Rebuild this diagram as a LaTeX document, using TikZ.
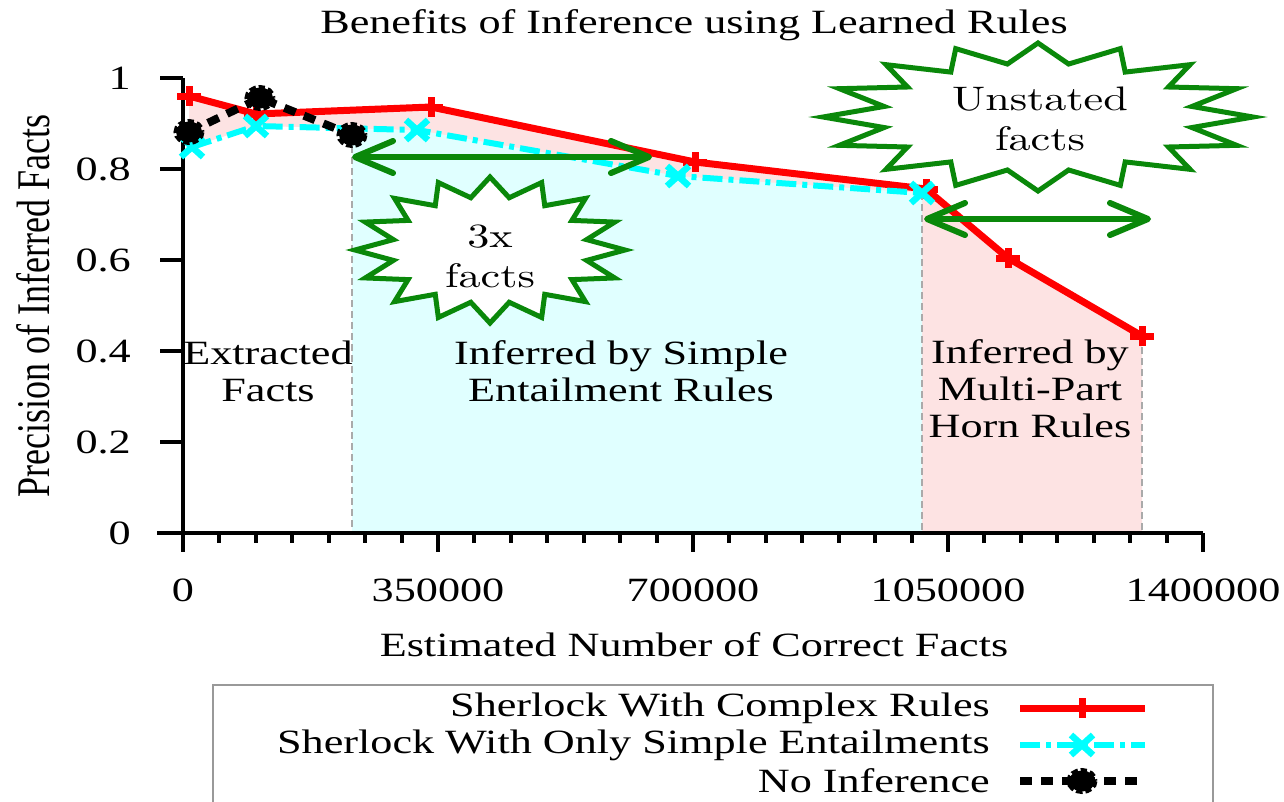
\documentclass[tikz,border=0pt]{standalone}
\usepackage{fontspec}
\newfontfamily\tms{Liberation Serif}[FakeStretch=1.3]
\newfontfamily\tmsplain{Liberation Serif}
\newfontfamily\lmr{lmroman10-regular.otf}[FakeStretch=1.3]
\usetikzlibrary{arrows.meta}
\definecolor{pinkfill}{HTML}{FDE3E3}
\definecolor{cyanfill}{HTML}{E0FFFF}
\definecolor{aqua}{HTML}{00FFFF}
\definecolor{pure red}{HTML}{FF0000}
\definecolor{burst}{HTML}{0A880A}
\definecolor{guide}{HTML}{AAAAAA}
\definecolor{boxgray}{HTML}{999999}

% starburst outline around a centre: #1 centre, #2/#3 outer radii
\newcommand\drawburst[3]{%
  \draw[burstline, shift={(#1)}]
    plot[samples at={0,...,31}, variable=\k]
    ({#2*(1-0.27*mod(\k,2))*cos(90+11.25*\k)},
     {#3*(1-0.27*mod(\k,2))*sin(90+11.25*\k)}) -- cycle;}

\begin{document}
\begin{tikzpicture}[x=1pt, y=-1pt,
  lbl/.style={font=\tms\fontsize{34}{37}\selectfont, inner sep=0pt, align=center},
  cmlbl/.style={font=\lmr\fontsize{34}{40}\selectfont, inner sep=0pt, align=center},
  axisline/.style={line width=4pt, black},
  guideline/.style={guide, line width=1.5pt, dash pattern=on 7pt off 4pt},
  redline/.style={pure red, line width=7pt, line join=round},
  cyanline/.style={aqua, line width=6pt, line join=round, dash pattern=on 20pt off 6pt on 5pt off 6pt},
  blackline/.style={black, line width=8pt, dash pattern=on 12pt off 9pt},
  burstline/.style={burst, line width=5pt, fill=white, line join=miter},
  twoway/.style={burst, line width=6pt, line cap=round,
    {Straight Barb[length=38pt, width=32pt, round]}-{Straight Barb[length=38pt, width=32pt, round]}},
  plusmark/.pic={\draw[pure red, line width=7pt] (-12,0) -- (12,0) (0,-10) -- (0,10);},
  xmark/.pic={\draw[aqua, line width=6.5pt] (-11,-10) -- (11,10) (-11,10) -- (11,-10);},
  dotmark/.pic={\fill[black] (0,0) ellipse [x radius=13, y radius=10.5];
                \draw[black, line width=5pt, dash pattern=on 6pt off 3pt] (0,0) ellipse [x radius=13, y radius=10.5];}
]
\useasboundingbox (0,0) rectangle (1284,801);

% origin of the axes
\coordinate (o) at (183,533);

% Sherlock with complex rules
\coordinate (R1) at (189,96);
\coordinate (R2) at (256,114);
\coordinate (R3) at (431,107);
\coordinate (R4) at (695,162);
\coordinate (R5) at (926,189);
\coordinate (R6) at (1008,258);
\coordinate (R7) at (1142,336);
% Sherlock with only simple entailments
\coordinate (C1) at (192,147);
\coordinate (C2) at (256,126);
\coordinate (C3) at (417,130);
\coordinate (C4) at (678,176);
\coordinate (C5) at (922,193);
\coordinate (Cs) at (352,128.4);
% no inference
\coordinate (B1) at (189,132);
\coordinate (B2) at (260,98);
\coordinate (B3) at (352,135);

% shaded regions
\fill[pinkfill] (R1|-o) -- (R1) -- (R2) -- (R3) -- (R4) -- (R5) -- (R6) -- (R7) -- (R7|-o) -- cycle;
\fill[white] (o) -- (o|-C1) -- (C1) -- (C2) -- (Cs) -- (Cs|-o) -- cycle;
\fill[cyanfill] (Cs) -- (C3) -- (C4) -- (C5) -- (C5|-o) -- (Cs|-o) -- cycle;

% region boundaries
\draw[guideline] (B3) -- (B3|-o);
\draw[guideline] (C5) -- (C5|-o);
\draw[guideline] (R7) -- (R7|-o);

% axes
\draw[axisline] (157,533) -- (1203,533);
\draw[axisline] (183,78) -- (183,552);
\foreach \k [evaluate=\k as \tx using 183+\k*255/7,
             evaluate=\k as \tl using {ifthenelse(mod(\k,7)==0,19,10)}] in {0,...,28}
  \draw[axisline] ({\tx},533) -- ({\tx},{533+\tl});
\foreach \y in {533,442,351,260,169,78}
  \draw[axisline] (160,\y) -- (183,\y);

\foreach \v/\y in {0/533,0.2/442,0.4/351,0.6/260,0.8/169,1/78}
  \node[lbl, anchor=east] (yt\y) at (131,\y) {\v};
\foreach \v/\x in {0/183,350000/438,700000/693,1050000/948,1400000/1203}
  \node[lbl] (xt\x) at (\x,590) {\v};

\node[lbl] (title) at (694,25) {Benefits of Inference using Learned Rules};
\node[lbl] (xlabel) at (694,645) {Estimated Number of Correct Facts};
\node[rotate=90, inner sep=0pt, font=\tmsplain\fontsize{36}{40}\selectfont] (ylabel) at (33,306)
  {\scalebox{1}[1.3]{Precision of Inferred Facts}};

% data series
\draw[redline] (R1) -- (R2) -- (R3) -- (R4) -- (R5) -- (R6) -- (R7);
\foreach \p in {R1,R2,R3,R4,R5,R6,R7} \pic at (\p) {plusmark};
\draw[cyanline] (C1) -- (C2) -- (C3) -- (C4) -- (C5);
\foreach \p in {C1,C2,C3,C4,C5} \pic at (\p) {xmark};
\draw[blackline] (B1) -- (B2) -- (B3);
\foreach \p in {B1,B2,B3} \pic at (\p) {dotmark};

% region captions
\node[lbl] (extracted) at (268,371) {Extracted\\Facts};
\node[lbl] (simple) at (621,371) {Inferred by Simple\\Entailment Rules};
\node[lbl] (horn) at (1030,389) {Inferred by\\Multi-Part\\Horn Rules};

% spans of the inferred facts
\coordinate (a1l) at (352,157);
\coordinate (a1r) at (652,157);
\draw[twoway] (a1l) -- (a1r);
\coordinate (a2l) at (924,219);
\coordinate (a2r) at (1151,219);
\draw[twoway] (a2l) -- (a2r);

% call-outs
\coordinate (s3x) at (490,250);
\drawburst{s3x}{135}{73}
\node[cmlbl] (t3x) at (490,256) {3x\\facts};
\coordinate (sun) at (1038,117);
\drawburst{sun}{215}{74}
\node[cmlbl] (tun) at (1040,119) {Unstated\\facts};

% legend
\draw[boxgray, line width=1.5pt] (213,805) -- (213,685) -- (1213,685) -- (1213,805);
\node[lbl, anchor=east] (lg1) at (990,708) {Sherlock With Complex Rules};
\node[lbl, anchor=east] (lg2) at (990,745) {Sherlock With Only Simple Entailments};
\node[lbl, anchor=east] (lg3) at (990,781) {No Inference};
\coordinate (l1a) at (1020,708); \coordinate (l1m) at (1082,708); \coordinate (l1b) at (1145,708);
\coordinate (l2a) at (1020,745); \coordinate (l2m) at (1082,745); \coordinate (l2b) at (1145,745);
\coordinate (l3a) at (1020,781); \coordinate (l3m) at (1082,781); \coordinate (l3b) at (1145,781);
\draw[redline] (l1a) -- (l1b); \pic at (l1m) {plusmark};
\draw[cyanline] (l2a) -- (l2b); \pic at (l2m) {xmark};
\draw[blackline] (l3a) -- (l3b); \pic at (l3m) {dotmark};
\end{tikzpicture}
\end{document}
